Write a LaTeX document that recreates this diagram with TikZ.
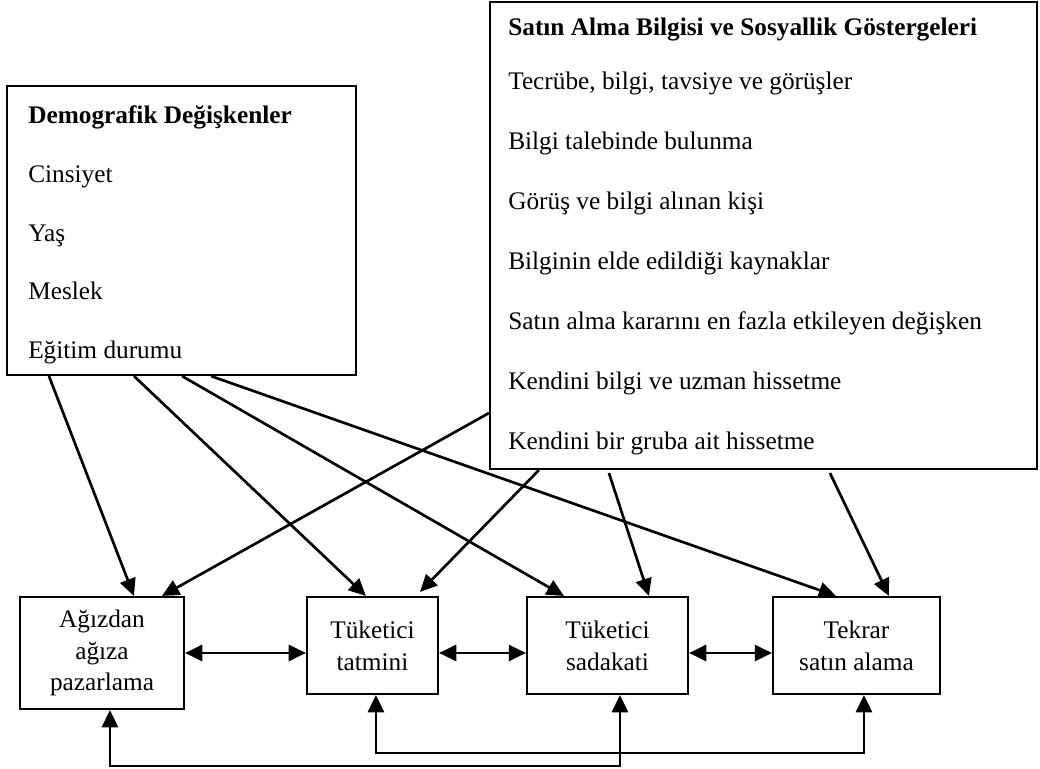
\documentclass[tikz,border=0pt]{standalone}
\usepackage{fontspec}
\setmainfont{Liberation Serif}
\usepackage{tikz}
\usepackage{xcolor}
\usetikzlibrary{arrows.meta,positioning,calc}
\definecolor{ink}{HTML}{000000}
\definecolor{paper}{HTML}{FFFFFF}
\tikzset{
  listbox/.style={draw=ink,fill=paper,line width=1.5pt,inner sep=0pt},
  listtext/.style={anchor=base west,align=left,inner sep=0pt,
                   font=\fontsize{18}{41.8}\selectfont},
  stagebox/.style={draw=ink,fill=paper,line width=1.5pt,
                   minimum height=2.425cm,align=center,inner sep=2pt,
                   font=\fontsize{18}{22.7}\selectfont},
  flowarr/.style={-{Triangle[length=4.3mm,width=4mm]},line width=1.9pt,color=ink},
  dblarr/.style={{Triangle[length=4.3mm,width=4mm]}-{Triangle[length=4.3mm,width=4mm]},
                 line width=1.9pt,color=ink}
}

\begin{document}
\begin{tikzpicture}[x=1cm,y=1cm]
  \useasboundingbox[fill=paper] (0,0) rectangle (26,19.225);
  % factor boxes (text nodes sit on the baseline of their last line)
  \node[listbox,minimum width=8.725cm,minimum height=7.225cm] (demo) at (4.5375,13.4625) {};
  \node[listtext] (demotxt) at (0.7,10.26)
    {\textbf{Demografik Değişkenler}\\Cinsiyet\\Yaş\\Meslek\\Eğitim durumu};
  \node[listbox,minimum width=13.675cm,minimum height=11.675cm] (info) at (19.0875,13.3375) {};
  \node[listtext,font=\fontsize{18}{42.7}\selectfont] (infotxt) at (12.7,7.975)
    {\textbf{Satın Alma Bilgisi ve Sosyallik Göstergeleri}\\[-1.5mm]
     Tecrübe, bilgi, tavsiye ve görüşler\\Bilgi talebinde bulunma\\
     Görüş ve bilgi alınan kişi\\Bilginin elde edildiği kaynaklar\\
     Satın alma kararını en fazla etkileyen değişken\\
     Kendini bilgi ve uzman hissetme\\Kendini bir gruba ait hissetme};
  % outcome boxes
  \node[stagebox,minimum width=4.1cm,minimum height=2.8cm] (wom) at (2.55,2.9) {Ağızdan\\ağıza\\pazarlama};
  \node[stagebox,minimum width=3.275cm] (sat) at (9.3125,3.0875) {Tüketici\\tatmini};
  \node[stagebox,minimum width=4.025cm] (loy) at (15.1875,3.0875) {Tüketici\\sadakati};
  \node[stagebox,minimum width=4.175cm] (rep) at (21.4125,3.0875) {Tekrar\\satın alama};
  % effects of the factors
  \draw[flowarr] ($(demo.south west)+(1.075,0)$) -- ($(wom.north west)+(2.875,0)$);
  \draw[flowarr] ($(demo.south west)+(3.2,0)$) -- ($(sat.north west)+(1.5,0)$);
  \draw[flowarr] ($(demo.south west)+(4.4,0)$) -- ($(loy.north west)+(0.95,0)$);
  \draw[flowarr] ($(demo.south west)+(5.125,0)$) -- ($(rep.north west)+(1.6,0)$);
  \draw[flowarr] ($(info.south west)+(0,1.425)$) -- ($(wom.north west)+(3.575,0)$);
  \draw[flowarr] ($(info.south west)+(1.25,0)$) -- ($(sat.north west)+(2.85,0.1)$);
  \draw[flowarr] ($(info.south west)+(3,-0.075)$) -- ($(loy.north west)+(3.075,0)$);
  \draw[flowarr] ($(info.south west)+(8.525,-0.075)$) -- ($(rep.north west)+(2.925,0)$);
  % links between outcomes
  \draw[dblarr] (wom.east) -- (wom.east -| sat.west);
  \draw[dblarr] (sat.east |- wom.east) -- (loy.west |- wom.east);
  \draw[dblarr] (loy.east |- wom.east) -- (rep.west |- wom.east);
  \draw[dblarr] ($(wom.south west)+(2.275,0)$) -- ++(0,-1.4) -| ($(loy.south west)+(2.35,0)$);
  \draw[dblarr] ($(sat.south west)+(1.75,0)$) -- ++(0,-1.45) -| ($(rep.south west)+(2.3,0)$);
\end{tikzpicture}
\end{document}
